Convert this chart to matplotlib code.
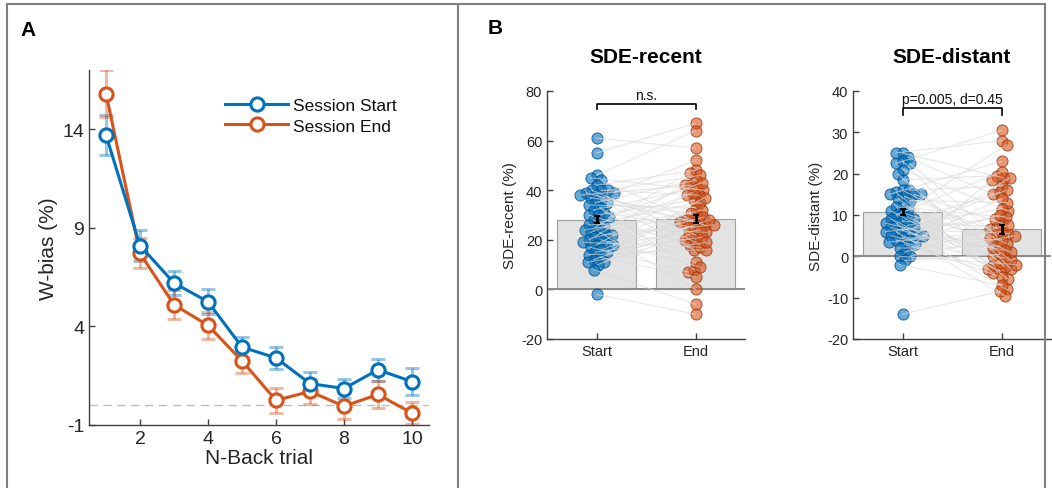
import numpy as np
import matplotlib
matplotlib.use("Agg")
import matplotlib.pyplot as plt
from matplotlib.lines import Line2D

plt.rcParams['font.family'] = ['Liberation Sans', 'DejaVu Sans']
plt.rcParams['axes.unicode_minus'] = False

# ---------------- Panel A data ----------------
trials = [1, 2, 3, 4, 5, 6, 7, 8, 9, 10]
start_mean = [13.7, 8.1, 6.2, 5.25, 2.95, 2.4, 1.1, 0.85, 1.8, 1.2]
start_err = [1.0, 0.8, 0.6, 0.63, 0.5, 0.55, 0.6, 0.47, 0.55, 0.7]
end_mean = [15.8, 7.7, 5.1, 4.05, 2.25, 0.25, 0.7, -0.05, 0.55, -0.4]
end_err = [1.2, 0.76, 0.72, 0.68, 0.6, 0.63, 0.65, 0.65, 0.7, 0.55]

# ---------------- Panel B data ----------------
group_labels = ['Start', 'End']
recent_start = [61, 55, 46, 45, 44, 42, 40, 40, 40, 39, 39, 38, 38, 37, 36, 35, 35, 34, 33, 32,
                31, 30, 30, 29, 28, 27, 26, 25, 25, 24, 23, 23, 22, 22, 21, 20, 20, 19, 19, 18,
                18, 17, 16, 15, 15, 14, 13, 12, 11, 11, 10, 8, -2]
recent_end = [57, 67, 64, 40, 28, 48, 38, 22, 46, 26, 52, 19, 42, 30, 16, 44, 27, 33, 8, 41,
              25, 36, 18, 43, 11, 35, 28, 47, 23, 31, 0, 39, 26, 20, 32, 9, 42, 29, 17, 38,
              24, 7, 27, 21, 37, 16, 5, 28, 22, 19, 25, -6, -10]
recent_bar = [28.0, 28.5]
recent_sem = [1.4, 1.7]

distant_start = [25, 25, 24, 23, 22.5, 22.5, 21, 20, 18.5, 16, 16, 15.5, 15, 15, 15, 14.5, 14, 13.5,
                 12.5, 12, 11.5, 11, 10.5, 10, 9.5, 9, 9, 8.5, 8, 8, 7.5, 7, 7, 6.5, 6, 6, 5.5,
                 5.5, 5, 5, 4.5, 4, 4, 3.5, 3, 3, 2, 1, 0, 0, -1, -2, -14]
distant_end = [19, 28, 15, -3, 30.5, 5, 11, -2.5, 19.5, 3, 17, -4, 8, 23, -1, 6.5, -5.5, 13, 1, 9.5,
               27, -2, 4.5, 20.5, 0, -3.5, 15.5, 7, -8, 2, 11.5, -0.5, 16, 5.5, -9.5, 9, 1.5, 19,
               -1.5, 14, 4, -3, 10, 6, -5, 18.5, 2.5, 7.5, -2, 5, 0.5, -7, -8.5]
distant_bar = [10.7, 6.5]
distant_sem = [0.8, 1.0]

BLUE = (0.0, 0.447, 0.741)
ORANGE = (0.85, 0.325, 0.098)
AXC = '#404040'
TXT = '#262626'

W, H = 1052, 489
fig = plt.figure(figsize=(W / 100, H / 100), dpi=100)


def px_axes(l, r, t, b):
    return fig.add_axes([l / W, 1 - b / H, (r - l) / W, (b - t) / H])


def style(ax, fs):
    for s in ['top', 'right']:
        ax.spines[s].set_visible(False)
    for s in ['left', 'bottom']:
        ax.spines[s].set_color(AXC)
        ax.spines[s].set_linewidth(1.0)
    ax.tick_params(direction='in', length=4, width=1.0, colors=AXC, labelcolor=TXT,
                   labelsize=fs)


# ---------------- Panel A ----------------
axA = px_axes(89, 429, 71, 426)
style(axA, 14)
axA.axhline(0, color='#bdbdbd', lw=1.0, ls=(0, (6, 4)), zorder=1)
axA.errorbar(trials, start_mean, yerr=start_err, fmt='none', ecolor=BLUE, alpha=0.4,
             elinewidth=2.2, capsize=5, capthick=2.2, zorder=2)
axA.errorbar(trials, end_mean, yerr=end_err, fmt='none', ecolor=ORANGE, alpha=0.4,
             elinewidth=2.2, capsize=5, capthick=2.2, zorder=2)
axA.plot(trials, start_mean, '-o', color=BLUE, lw=2.2, ms=9.5, mew=2.2, mfc='white',
         label='Session Start', zorder=4)
axA.plot(trials, end_mean, '-o', color=ORANGE, lw=2.2, ms=9.5, mew=2.2, mfc='white',
         label='Session End', zorder=3)
axA.set_xlim(0.5, 10.5)
axA.set_ylim(-1, 17)
axA.set_xticks([2, 4, 6, 8, 10])
axA.set_yticks([-1, 4, 9, 14])
axA.set_xlabel('N-Back trial', fontsize=15, color=TXT, labelpad=1)
axA.set_ylabel('W-bias (%)', fontsize=15, color=TXT, labelpad=3)
axA.legend(loc='upper left', bbox_to_anchor=(0.355, 0.965), frameon=False, fontsize=12.5,
           handlelength=3.6, handletextpad=0.3, labelspacing=0.3, labelcolor='#111111')


# ---------------- Panel B ----------------
def swarm(vals, ypx, xpx, d=6.4, step=0.5):
    vals = np.asarray(vals, float)
    order = np.argsort(-vals, kind='stable')
    placed = []
    offs = np.zeros(len(vals))
    for j, i in enumerate(order):
        y = vals[i] * ypx
        k = 0
        found = None
        while found is None:
            cands = [0.0] if k == 0 else ([k * step, -k * step] if j % 2 == 0 else [-k * step, k * step])
            for x in cands:
                if all((x - px) ** 2 + (y - py) ** 2 >= d * d for px, py in placed):
                    found = x
                    break
            k += 1
        placed.append((found, y))
        offs[i] = found / xpx
    return offs


def sde_panel(ax, s_vals, e_vals, bars, sems, ylim, yticks, ylabel, title, brk, brk_txt, txt_fs):
    style(ax, 10.5)
    ax.set_xlim(0.5, 2.5)
    ax.set_ylim(*ylim)
    bbox = ax.get_position()
    ypx = bbox.height * H / (ylim[1] - ylim[0])
    xpx = bbox.width * W / 2.0
    ax.bar([1, 2], bars, width=0.8, color='#e3e3e3', edgecolor='#a0a0a0', lw=0.8, zorder=1)
    ax.axhline(0, color='#8c8c8c', lw=1.5, zorder=2)
    so = swarm(s_vals, ypx, xpx)
    eo = swarm(e_vals, ypx, xpx)
    xs = 1 + so
    xe = 2 + eo
    ax.scatter(xs, s_vals, s=64, facecolor=BLUE + (0.6,), edgecolor=(0.0, 0.3, 0.55, 0.8),
               lw=0.7, zorder=3)
    ax.scatter(xe, e_vals, s=64, facecolor=ORANGE + (0.6,), edgecolor=(0.6, 0.22, 0.06, 0.8),
               lw=0.7, zorder=3)
    for a, b, c, d in zip(xs, xe, s_vals, e_vals):
        ax.plot([a, b], [c, d], color=(0.86, 0.86, 0.86), alpha=0.65, lw=0.8, zorder=4)
    ax.errorbar([1, 2], bars, yerr=sems, fmt='none', ecolor='black', elinewidth=2,
                capsize=2, capthick=1.5, zorder=6)
    ax.set_xticks([1, 2])
    ax.set_xticklabels(group_labels, fontsize=10.5)
    ax.set_yticks(yticks)
    ax.set_ylabel(ylabel, fontsize=11, color=TXT, labelpad=3)
    ax.set_title(title, fontsize=15, fontweight='bold', pad=21, color='black')
    lo, hi = brk
    ax.plot([1, 1, 2, 2], [lo, hi, hi, lo], color='black', lw=1.2, zorder=6, clip_on=False)
    ax.text(1.5, hi + (ylim[1] - ylim[0]) * 0.008, brk_txt, ha='center', va='bottom',
            fontsize=txt_fs, color='#111111')


axB1 = px_axes(547, 745, 92, 340)
sde_panel(axB1, recent_start, recent_end, recent_bar, recent_sem, (-20, 80),
          [-20, 0, 20, 40, 60, 80], 'SDE-recent (%)', 'SDE-recent', (72.9, 74.6), 'n.s.', 10)

axB2 = px_axes(853, 1051, 92, 340)
sde_panel(axB2, distant_start, distant_end, distant_bar, distant_sem, (-20, 40),
          [-20, -10, 0, 10, 20, 30, 40], 'SDE-distant (%)', 'SDE-distant', (34.2, 35.9),
          'p=0.005, d=0.45', 10)

# ---------------- panel letters and frames ----------------
fig.text(20 / W, 1 - 30 / H, 'A', fontsize=15, fontweight='bold', ha='left', va='center')
fig.text(488 / W, 1 - 28 / H, 'B', fontsize=15, fontweight='bold', ha='left', va='center')

fc = '#808080'
fig.add_artist(Line2D([7 / W, 7 / W], [0, 1 - 5 / H], color=fc, lw=1.5))
fig.add_artist(Line2D([7 / W, 1045 / W], [1 - 5 / H, 1 - 5 / H], color=fc, lw=1.5))
fig.add_artist(Line2D([458 / W, 458 / W], [0, 1 - 5 / H], color=fc, lw=1.5))
fig.add_artist(Line2D([1045 / W, 1045 / W], [0, 1 - 5 / H], color=fc, lw=1.5))

fig.savefig('out.png', dpi=100)
